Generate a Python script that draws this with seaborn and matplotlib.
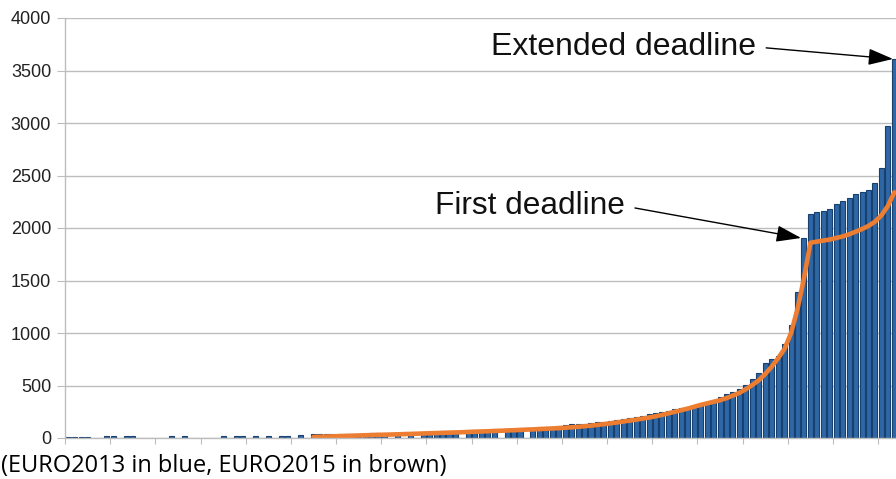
import numpy as np
import pandas as pd
import matplotlib
matplotlib.use("Agg")
import matplotlib.pyplot as plt
import seaborn as sns

sns.set_style("white")
plt.rcParams["font.family"] = ["Liberation Sans", "DejaVu Sans"]

nan = np.nan

# EURO2013: submissions per day (bars), one entry per day
euro2013 = [
    12, 12, 12, 12, nan, nan, 15, 15, nan, 15,          # 0-9
    15, nan, nan, nan, nan, nan, 15, nan, 15, nan,      # 10-19
    nan, nan, nan, nan, 18, nan, 18, 18, nan, 20,       # 20-29
    nan, 20, nan, 22, 22, nan, 25, nan, 35, 36,         # 30-39
    37, 38, 38, 39, 40, 41, 42, 43, 44, 46,             # 40-49
    nan, 50, nan, 52, nan, 55, 57, 60, 62, 64,          # 50-59
    67, nan, 72, 74, 76, 78, 80, nan, 84, 87,           # 60-69
    90, nan, 97, 101, 105, 109, 117, 126, 130, 134,     # 70-79
    138, 143, 148, 153, 158, 168, 180, 192, 203, 213,   # 80-89
    224, 235, 245, 258, 272, 285, 296, 306, 318, 340,   # 90-99
    362, 395, 415, 440, 468, 505, 560, 622, 711, 748,   # 100-109
    782, 900, 1080, 1395, 1905, 2135, 2150, 2160, 2185, 2225,  # 110-119
    2255, 2285, 2320, 2340, 2360, 2430, 2570, 2970, 3610,      # 120-128
]
days2013 = list(range(len(euro2013)))

# EURO2015: line, starts on day 38
euro2015 = [
    10, 12, 14, 16, 18, 20, 22, 24, 26, 28,
    30, 31, 33, 35, 37, 39, 41, 43, 45, 47,
    49, 51, 53, 55, 57, 60, 62, 64, 67, 69,
    72, 74, 77, 80, 82, 85, 88, 91, 94, 98,
    102, 107, 112, 118, 125, 132, 140, 148, 157, 166,
    175, 185, 195, 207, 220, 235, 250, 265, 280, 298,
    315, 330, 345, 360, 380, 405, 430, 465, 505, 550,
    610, 680, 760, 850, 1000, 1230, 1520, 1860, 1870, 1880,
    1890, 1905, 1920, 1940, 1965, 1990, 2020, 2060, 2120, 2210,
    2340,
]
days2015 = list(range(38, 38 + len(euro2015)))

yticks = [0, 500, 1000, 1500, 2000, 2500, 3000, 3500, 4000]
first_day = 114
extended_day = 128

df13 = pd.DataFrame({"day": days2013, "n": euro2013}).dropna()
df15 = pd.DataFrame({"day": days2015, "n": euro2015})

fig = plt.figure(figsize=(8.96, 4.79), dpi=100)
ax = fig.add_axes([65 / 896, 41 / 479, 831 / 896, 420 / 479])

ax.yaxis.grid(True, color="#bdbdbd", linewidth=1.0, zorder=0)
ax.set_axisbelow(True)

sns.barplot(data=df13, x="day", y="n", native_scale=True, width=0.78,
            color="#2f67a6", edgecolor="#17406e", linewidth=0.8,
            errorbar=None, saturation=1, ax=ax)
sns.lineplot(data=df15, x="day", y="n", color="#ed7d31", linewidth=3.3, ax=ax)

ax.set_xlim(-0.5, 128.26)
ax.set_ylim(0, 4000)
ax.set_yticks(yticks)
ax.set_yticklabels([str(v) for v in yticks], fontsize=13, color="#222222")
ax.set_xticks(np.arange(-0.5, 129, 7))
ax.set_xticklabels([])
ax.tick_params(axis="y", length=6, color="#bdbdbd", pad=4, left=True)
ax.tick_params(axis="x", length=4.5, color="#bdbdbd", bottom=True)
ax.set_xlabel("")
ax.set_ylabel("")
for s in ["top", "right"]:
    ax.spines[s].set_visible(False)
for s in ["left", "bottom"]:
    ax.spines[s].set_color("#bdbdbd")
    ax.spines[s].set_linewidth(1.0)

arrow = dict(arrowstyle="-|>,head_length=0.9,head_width=0.3", color="black",
             lw=1.0, mutation_scale=17, relpos=(1.0, 0.5), shrinkA=5, shrinkB=0)
ax.annotate("Extended deadline", xy=(extended_day - 0.2, euro2013[extended_day]),
            xytext=(0.5126, 0.931), textcoords="axes fraction",
            ha="left", va="center", fontsize=23, color="#111111",
            arrowprops=arrow, annotation_clip=False)
ax.annotate("First deadline", xy=(first_day - 0.45, euro2013[first_day]),
            xytext=(0.4452, 0.552), textcoords="axes fraction",
            ha="left", va="center", fontsize=22.8, color="#111111",
            arrowprops=arrow)

fig.text(0.001, 0.0146, "(EURO2013 in blue, EURO2015 in brown)",
         fontsize=17, family=["Open Sans", "DejaVu Sans"], color="black",
         ha="left", va="baseline")

fig.savefig("out.png", dpi=100)
